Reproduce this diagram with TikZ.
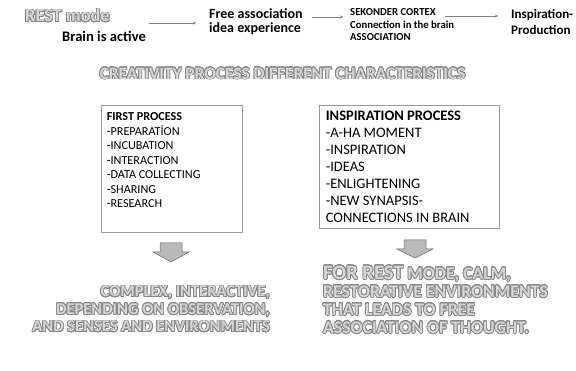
\documentclass[tikz,border=0pt]{standalone}
\usepackage{fontspec}
\setmainfont{Carlito}
\usepackage{contour}
\usetikzlibrary{arrows.meta,positioning}
\usepackage{xcolor}
\definecolor{olfill}{RGB}{214,214,214}
\definecolor{olline}{RGB}{135,135,135}
\contourlength{0.75pt}
\contournumber{24}
\newcommand{\olt}[1]{\contour{olline}{\textcolor{olfill}{#1}}}
\tikzset{
  toplbl/.style ={font=\bfseries\fontsize{14}{14}\selectfont,
                  align=left,anchor=west,inner sep=0pt},
  smlbl/.style  ={font=\bfseries\fontsize{10.7}{12.5}\selectfont,
                  align=left,anchor=west,inner sep=0pt},
  flow/.style   ={-{Stealth[length=3pt,width=3pt]},draw=gray,line width=0.5pt},
  listbox/.style={rectangle,draw=gray!80,line width=0.7pt},
  listtxt/.style={align=left,anchor=north west,inner sep=0pt},
  bigtxt/.style ={font=\bfseries\fontsize{16.5}{17.5}\selectfont,inner sep=0pt},
  bigarr/.style ={fill=gray!55,draw=gray!80!black,line width=0.5pt},
}

\begin{document}
\begin{tikzpicture}[x=1pt,y=-1pt]
  \useasboundingbox (0,0) rectangle (576,371);
  % top row
  \node[toplbl,font=\bfseries\fontsize{18.3}{18}\selectfont]
                       (rest)      at (25,16)  {\olt{REST mode}};
  \node[toplbl,font=\bfseries\fontsize{14.6}{14}\selectfont]
                       (brain)     at (62,36)  {Brain is active};
  \node[toplbl]        (freeassoc) at (209,22) {Free association\\idea experience};
  \node[smlbl]         (cortex)    at (350,25) {SEKONDER CORTEX\\Connection in the brain\\ASSOCIATION};
  \node[toplbl,font=\bfseries\fontsize{13}{15.5}\selectfont]
                       (insp)      at (511,22) {Inspiration-\\Production};
  % top arrows
  \draw[flow] ([xshift=3pt,yshift=-1pt]brain.east |- freeassoc.west) -- ([xshift=-13pt,yshift=-1pt]freeassoc.west);
  \draw[flow] ([shift={(9pt,5pt)}]freeassoc.east) -- ([shift={(-7pt,8pt)}]cortex.west);
  \draw[flow] ([shift={(-9pt,9pt)}]cortex.east) -- ([shift={(-13pt,6pt)}]insp.west);
  % title
  \node[font=\bfseries\fontsize{17.3}{18}\selectfont,inner sep=0pt]
                       (title)     at (282.5,74)
       {\olt{CREATIVITY PROCESS DIFFERENT CHARACTERISTICS}};
  % process boxes
  \node[listbox,minimum width=141pt,minimum height=127pt] (firstbox) at (171.5,168.5) {};
  \node[listtxt,font=\fontsize{12.2}{14.5}\selectfont]
       (firsttxt) at ([shift={(6pt,-8pt)}]firstbox.north west)
       {\textbf{FIRST PROCESS}\\-PREPARATİON\\-INCUBATION\\-INTERACTION\\-DATA COLLECTING\\-SHARING\\-RESEARCH};
  \node[listbox,minimum width=180pt,minimum height=123pt] (inspbox) at (409,166.5) {};
  \node[listtxt,font=\fontsize{14.5}{17}\selectfont]
       (insptxt) at ([shift={(7pt,-6.5pt)}]inspbox.north west)
       {\textbf{INSPIRATION PROCESS}\\-A-HA MOMENT\\-INSPIRATION\\-IDEAS\\-ENLIGHTENING\\-NEW SYNAPSIS-\\CONNECTIONS IN BRAIN};
  % block arrows
  \coordinate (larr) at (171,243);
  \coordinate (rarr) at (415,240);
  \draw[bigarr] (larr) ++(-11pt,0) -- ++(22pt,0) -- ++(0,-9pt) -- ++(7pt,0)
       -- ++(-18pt,-10pt) -- ++(-18pt,10pt) -- ++(7pt,0) -- cycle;
  \draw[bigarr] (rarr) ++(-11pt,0) -- ++(22pt,0) -- ++(0,-9pt) -- ++(7pt,0)
       -- ++(-18pt,-9pt) -- ++(-18pt,9pt) -- ++(7pt,0) -- cycle;
  % results
  \node[bigtxt,align=right,anchor=east] (leftres) at (270,309.5)
       {\olt{COMPLEX, INTERACTIVE,}\\\olt{DEPENDING ON OBSERVATION,}\\\olt{AND SENSES AND ENVIRONMENTS}};
  \node[bigtxt,align=left,anchor=west,font=\bfseries\fontsize{17.7}{18}\selectfont] (rightres) at (323,300)
       {\olt{{\fontsize{20.5}{18}\selectfont FOR REST} MODE, CALM,}\\\olt{RESTORATIVE ENVIRONMENTS}\\\olt{THAT LEADS TO FREE}\\\olt{ASSOCIATION OF THOUGHT.}};
\end{tikzpicture}
\end{document}
